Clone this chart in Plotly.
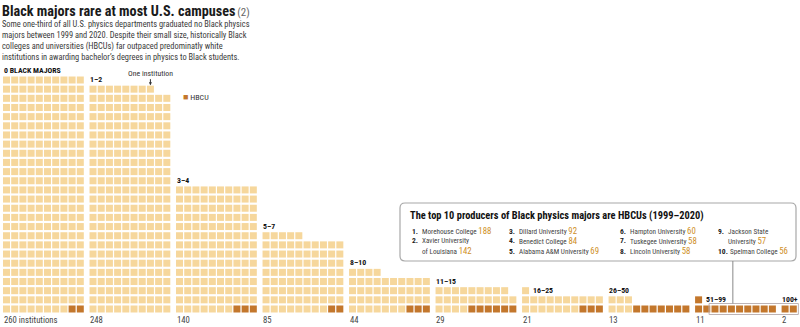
import plotly.graph_objects as go

# Institutions binned by number of Black physics bachelor's degrees, 1999–2020
bins = ["0", "1–2", "3–4", "5–7", "8–10", "11–15", "16–25", "26–50", "51–99", "100+"]
bin_low = [0, 1, 3, 5, 8, 11, 16, 26, 51, 100]
institutions = [260, 248, 140, 85, 44, 29, 21, 13, 11, 2]
hbcus = [2, 0, 3, 2, 3, 6, 3, 7, 11, 2]

# Top 10 producers of Black physics majors
top_names = ["Morehouse College", "Xavier University<br>of Louisiana", "Dillard University",
             "Benedict College", "Alabama A&M University", "Hampton University",
             "Tuskegee University", "Lincoln University", "Jackson State<br>University",
             "Spelman College"]
top_majors = [188, 142, 92, 84, 69, 60, 58, 58, 57, 56]

headline = "Black majors rare at most U.S. campuses"
deck_lines = [
    "Some one-third of all U.S. physics departments graduated no Black physics",
    "majors between 1999 and 2020. Despite their small size, historically Black",
    "colleges and universities (HBCUs) far outpaced predominatly white",
    "institutions in awarding bachelor’s degrees in physics to Black students.",
]

W, H = 800, 327
COLS = 10
GROUP_STEP = 10.55          # columns between the left edges of neighbouring groups
COL_PX, ROW_PX = 8.2, 9.16  # cell pitch in pixels
X0_PX, Y0_PX = 6.5, 309.0   # pixel centre of the bottom-left cell

LIGHT = "#f6d79c"
DARK = "#c3772c"
GOLD = "#cf8f1f"
FONT = "Roboto Condensed, Liberation Sans Narrow, Liberation Sans, Arial, sans-serif"

x_range = [-X0_PX / COL_PX, (W - X0_PX) / COL_PX]
y_range = [-(H - Y0_PX) / ROW_PX, Y0_PX / ROW_PX]


def cell(g, i):
    return g * GROUP_STEP + i % COLS, i // COLS


def hbcu_slots(n, h):
    """HBCUs sit at the right end of the bottom row, spilling onto the next row."""
    first = min(n, COLS)
    return {first - 1 - k if k < first else k for k in range(h)}


lx, ly, dx, dy = [], [], [], []
for g, (n, h) in enumerate(zip(institutions, hbcus)):
    dark = hbcu_slots(n, h)
    for i in range(n):
        x, y = cell(g, i)
        if i in dark:
            dx.append(x); dy.append(y)
        else:
            lx.append(x); ly.append(y)

fig = go.Figure()
fig.add_trace(go.Scatter(x=lx, y=ly, mode="markers", hoverinfo="skip", showlegend=False,
                         marker=dict(symbol="square", size=7, color=LIGHT, line=dict(width=0))))
fig.add_trace(go.Scatter(x=dx, y=dy, mode="markers", hoverinfo="skip", showlegend=False,
                         marker=dict(symbol="square", size=7, color=DARK, line=dict(width=0))))

annotations = []


def ann(text, x, y, size=9, color="#333", xanchor="left", yanchor="middle",
        xref="paper", yref="paper"):
    if xref == "paper":
        x = x / W
    if yref == "paper":
        y = 1 - y / H
    annotations.append(dict(text=text, x=x, y=y, xref=xref, yref=yref, showarrow=False,
                            xanchor=xanchor, yanchor=yanchor, align="left", borderpad=0,
                            font=dict(family=FONT, size=size, color=color)))


# Headline and deck set as one text block
ann(f"<span style='font-size:14.2px;color:#1a1a1a'><b>{headline}</b></span> "
    "<span style='font-size:11px;color:#666'>(2)</span><br>" + "<br>".join(deck_lines),
    1, 1.5, size=8.4, color="#3a3a3a", yanchor="top")

# Group labels above each stack and counts beneath
for g, n in enumerate(institutions):
    rows = (n - 1) // COLS
    top_count = n - rows * COLS
    left = g * GROUP_STEP - 0.45
    label = "0 BLACK MAJORS" if g == 0 else bins[g]
    if top_count == 1 and rows > 0:
        ann(f"<b>{label}</b>", g * GROUP_STEP + 0.75, rows + 0.05, size=7.8, color="#111",
            xref="x", yref="y")
    elif g == len(institutions) - 1:
        ann(f"<b>{label}</b>", x_range[1] - 0.1, rows + 1.05, size=7.8, color="#111",
            xanchor="right", xref="x", yref="y")
    else:
        ann(f"<b>{label}</b>", left, rows + 1.05, size=7.8, color="#111", xref="x", yref="y")
    ann(f"{n} institutions" if g == 0 else f"{n}", left, -1.25, size=8.7, color="#444",
        xref="x", yref="y")

# Pointer to a single square
px_, py_ = cell(1, institutions[1] - 1)
annotations.append(dict(text="One institution", x=px_, y=py_, xref="x", yref="y",
                        showarrow=True, ax=0, ay=-16, arrowhead=2, arrowsize=0.6,
                        arrowwidth=1, arrowcolor="#333", standoff=4,
                        font=dict(family=FONT, size=7.8, color="#333")))

# Legend key
ann(f"<span style='color:{DARK};font-size:9px'>■</span> HBCU", 182, 97, size=8, color="#333")

shapes = []

# Outline around the ten leading institutions
counts_in_group = {}
for v in top_majors:
    g = max(k for k, lo in enumerate(bin_low) if v >= lo)
    counts_in_group[g] = counts_in_group.get(g, 0) + 1
xs = [cell(g, min(institutions[g], COLS) - 1 - k)[0]
      for g, c in counts_in_group.items() for k in range(c)]
hx0, hx1 = min(xs) - 0.72, max(xs) + 0.62
hy0, hy1 = -0.6, 0.6
shapes.append(dict(type="rect", xref="x", yref="y", x0=hx0, x1=hx1, y0=hy0, y1=hy1,
                   line=dict(color="#bdb4b6", width=1), fillcolor="rgba(0,0,0,0)"))

# Callout box
BX0, BY0, BX1, BY1, R = 400, 203, 796, 261, 5


def rounded(x0, y0, x1, y1, r):
    fx = lambda v: v / W
    fy = lambda v: 1 - v / H
    return (f"M {fx(x0 + r)} {fy(y0)} L {fx(x1 - r)} {fy(y0)} Q {fx(x1)} {fy(y0)} {fx(x1)} {fy(y0 + r)} "
            f"L {fx(x1)} {fy(y1 - r)} Q {fx(x1)} {fy(y1)} {fx(x1 - r)} {fy(y1)} "
            f"L {fx(x0 + r)} {fy(y1)} Q {fx(x0)} {fy(y1)} {fx(x0)} {fy(y1 - r)} "
            f"L {fx(x0)} {fy(y0 + r)} Q {fx(x0)} {fy(y0)} {fx(x0 + r)} {fy(y0)} Z")


shapes.append(dict(type="path", xref="paper", yref="paper", path=rounded(BX0, BY0, BX1, BY1, R),
                   line=dict(color="#a8a8a8", width=1.2), fillcolor="white"))

# Connector from the callout down to the outlined squares
cx = (hx0 + 2.9 - x_range[0]) / (x_range[1] - x_range[0])
shapes.append(dict(type="line", xref="paper", yref="paper", x0=cx, x1=cx,
                   y0=1 - BY1 / H, y1=(hy1 - y_range[0]) / (y_range[1] - y_range[0]),
                   line=dict(color="#888", width=1)))

ann("<b>The top 10 producers of Black physics majors are HBCUs (1999–2020)</b>",
    409, 215, size=10.4, color="#111")

col_x = [411, 508, 619, 717]
row_y = [231, 241, 251]
slots = [(0, 0), (0, 1), (1, 0), (1, 1), (1, 2), (2, 0), (2, 1), (2, 2), (3, 0), (3, 2)]
for k, (name, v) in enumerate(zip(top_names, top_majors)):
    c, r = slots[k]
    ann(f"<b>{k + 1}.</b>", col_x[c], row_y[r], size=7.6, color="#222")
    parts = name.split("<br>")
    for j, part in enumerate(parts):
        text = part
        if j == len(parts) - 1:
            text += f" <span style='color:{GOLD};font-size:8.8px'>{v}</span>"
        ann(text, col_x[c] + (10 if k < 9 else 12), row_y[r + j], size=7.2, color="#444")

fig.update_layout(
    width=W, height=H, margin=dict(l=0, r=0, t=0, b=0),
    paper_bgcolor="white", plot_bgcolor="white",
    xaxis=dict(range=x_range, visible=False, fixedrange=True),
    yaxis=dict(range=y_range, visible=False, fixedrange=True),
    annotations=annotations, shapes=shapes, showlegend=False,
)

fig.write_html("out.html")
